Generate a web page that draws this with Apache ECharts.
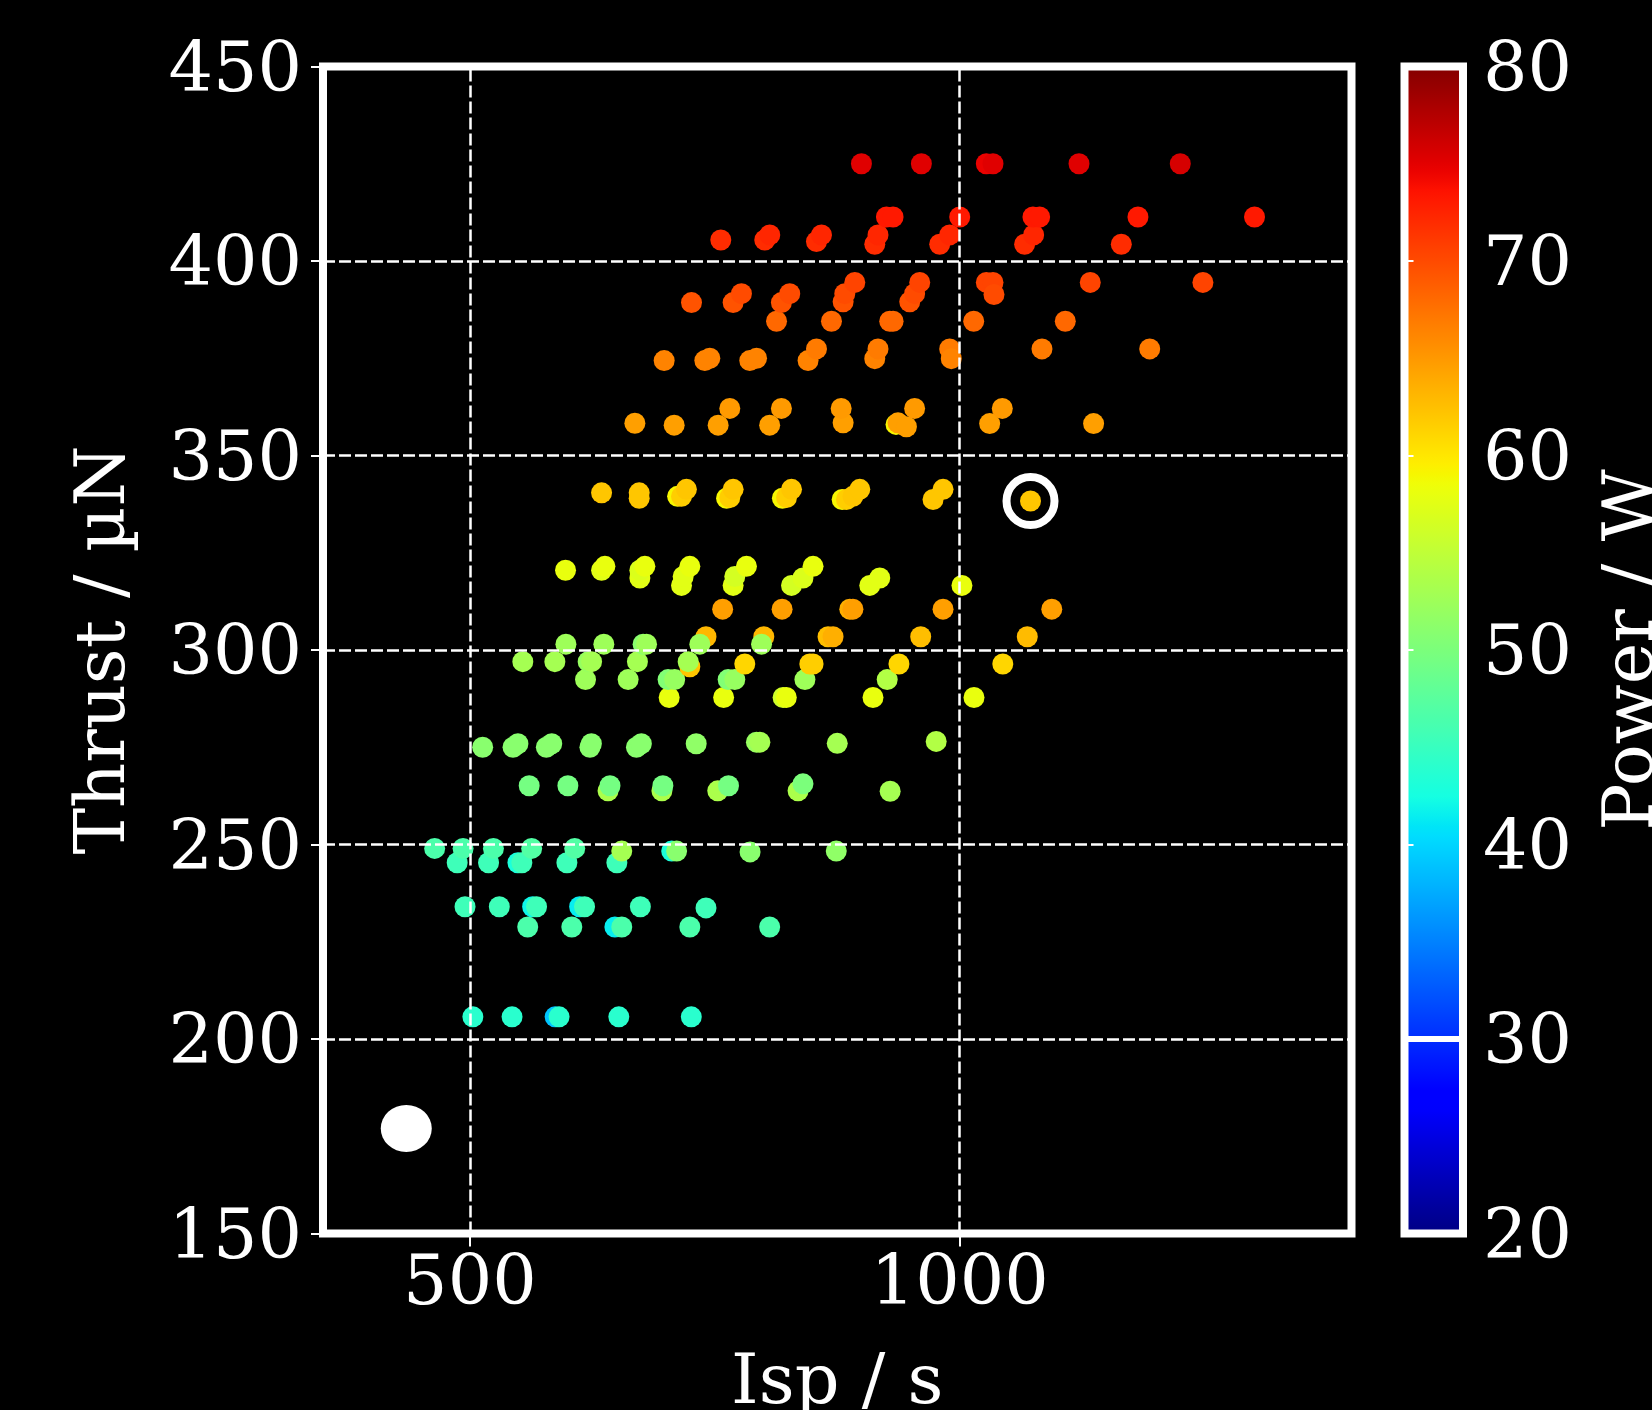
<!DOCTYPE html>
<html>
<head>
<meta charset="utf-8">
<script src="https://cdn.jsdelivr.net/npm/echarts@6.0.0/dist/echarts.min.js"></script>
<style>
html,body{margin:0;padding:0;background:#000;}
#chart{width:1652px;height:1410px;}
</style>
</head>
<body>
<div id="chart"></div>
<script>
// ---------- data ----------
const ispValues = [
  // ~206 uN
  587, 503, 543, 591, 652, 726,
  // ~229 uN
  648, 559, 604, 655, 724.5, 806,
  // ~234 uN
  564, 612, 495, 530, 568, 617, 674, 741,
  // ~245 uN
  549, 487, 519, 553, 599, 650,
  // ~249 uN
  706, 464, 493, 524, 563, 607, 655, 711, 786, 874,
  // ~264-265 uN
  641, 696, 753, 835, 929, 560.5, 600, 643, 697, 764, 840,
  // ~276 uN
  513, 544, 549, 578, 583.5, 622.5, 624, 670, 675, 731, 792.5, 796, 875, 976,
  // ~288 uN
  703.4, 759, 819.7, 823, 911.5, 1014.6,
  // ~292 uN
  618, 661.5, 702.3, 709, 763.6, 770.4, 842, 926,
  // ~296-297 uN
  724.5, 554, 586.7, 620.7, 624.2, 671, 722.8, 780.6, 847, 850.3, 938, 1044,
  // ~303 uN
  741, 800, 865.6, 870.7, 960.2, 1069,
  // ~301.5 uN
  598, 636.7, 676.8, 680.3, 734.7, 797.7,
  // ~310.5 uN
  758, 818.7, 887.8, 891, 983, 1094,
  // ~316.6 uN
  716, 768.7, 828.3, 908.2, 1002.3,
  // ~318.7 uN
  673.5, 717.7, 770.4, 840, 918.4,
  // ~321 uN
  597.6, 634.4, 637.8, 673.5, 678.6, 724.5, 782.3, 850.3,
  // ~340 uN
  712, 762, 819, 880, 634.4, 672.8, 672.8, 716, 721, 765.3, 768.7, 823.2, 828.3, 884.4, 891, 898, 972.8, 983, 1072.3,
  // ~358-362 uN
  935, 668.4, 708.5, 753.4, 806, 881, 937, 945.6, 1030.6, 1136.7, 765.3, 818, 879, 954, 1043.5,
  // ~374-377 uN
  698.3, 739.8, 744.9, 785.7, 792.6, 845.2, 853.8, 913.3, 916.6, 989.8, 991.4, 1084, 1194,
  // ~384.5 uN
  813, 869.1, 928.6, 932, 1014.3, 1107.8,
  // ~389-394 uN
  726.2, 768.7, 777.2, 818, 826.5, 881, 882.7, 892.9, 949, 954, 959.2, 1027.2, 1034, 1035, 1133.3, 1248.3,
  // ~404-407 uN
  756.1, 801, 806.1, 853.8, 858.9, 913.3, 916.6, 979.6, 989.8, 1066.3, 1075.5, 1165,
  // ~411 uN
  925.2, 932, 1000, 1074.8, 1081.6, 1182, 1301,
  // ~425 uN
  899.7, 960.9, 1027.2, 1034, 1121.8, 1225.2
];
const thrustValues = [
  205.7, 205.7, 205.7, 205.7, 205.7, 205.7,
  228.8, 228.8, 228.8, 228.8, 228.8, 228.8,
  234, 234, 234, 234, 234, 234, 234, 233.7,
  245.3, 245.3, 245.3, 245.3, 245.3, 245.3,
  248.3, 249, 249, 249, 249, 249, 248.3, 248.3, 248.1, 248.3,
  263.8, 263.8, 263.8, 263.8, 263.7, 265.1, 265.1, 265.1, 265.1, 265.1, 265.6,
  275, 275, 275.9, 275, 275.9, 275, 275.9, 275, 275.9, 275.9, 276.3, 276.3, 276, 276.5,
  287.8, 287.8, 287.8, 287.8, 287.8, 287.8,
  292.4, 292.4, 292.4, 292.4, 292.4, 292.4, 292.4, 292.4,
  295.7, 297, 297, 297, 297, 297, 297, 296.4, 296.4, 296.4, 296.4, 296.4,
  303.4, 303.4, 303.4, 303.4, 303.4, 303.4,
  301.5, 301.5, 301.5, 301.5, 301.5, 301.5,
  310.5, 310.5, 310.5, 310.5, 310.5, 310.5,
  316.6, 316.6, 316.6, 316.6, 316.6,
  318.5, 318.9, 318.9, 318.5, 318.5,
  320.5, 320.5, 321.5, 320.5, 321.5, 321.5, 321.5, 321.5,
  339.5, 339, 339, 338.7, 340.4, 339, 340.4, 339.5, 341.3, 339.2, 341.3, 339.2, 341.3, 338.7, 339.5, 341.3, 338.7, 341.3, 338.3,
  358, 358.3, 357.8, 357.8, 357.8, 358.4, 358.4, 357.4, 358.2, 358.2, 362.1, 362.1, 362.1, 362.1, 362.1,
  374.4, 374.4, 375, 374.4, 375, 374.4, 377.4, 374.9, 377.4, 377.4, 374.9, 377.4, 377.4,
  384.5, 384.5, 384.5, 384.5, 384.5, 384.5,
  389.3, 389.3, 391.6, 389.3, 391.6, 389.5, 391.6, 394.5, 389.5, 391.6, 394.5, 394.5, 394.5, 391.4, 394.5, 394.5,
  405.4, 405.4, 406.7, 405, 406.7, 404.3, 406.7, 404.3, 406.7, 404.3, 406.7, 404.3,
  411.3, 411.3, 411.3, 411.3, 411.3, 411.3, 411.3,
  425, 425, 425, 425, 425, 425
];
const powerValues = [
  39, 44, 44, 44, 44, 44,
  41.5, 46.5, 46.5, 46.5, 46.5, 46.5,
  42, 41.5, 45.5, 45.5, 45.5, 45.5, 45.5, 45.5,
  43, 45.5, 45.5, 45.5, 45.5, 45.5,
  43, 46.5, 46.5, 46.5, 47, 47, 53, 51, 51, 51.5,
  53.5, 53.5, 53.5, 53.5, 53, 49.5, 49.5, 49.5, 49.5, 49.5, 50,
  51, 51, 51, 51, 51, 51, 51, 51, 51, 51.5, 52, 53, 53, 54,
  58, 58, 56, 58, 58, 58,
  52.5, 52.5, 50.5, 52, 50.5, 52, 52.5, 54,
  62, 53, 53, 52, 53, 53, 53, 61, 61.5, 61.5, 61, 61,
  63, 63, 62.5, 63.5, 62.5, 62.7,
  52.5, 52.5, 51, 52.5, 52.5, 52.5,
  64.5, 64.5, 63.5, 64.5, 64.5, 64.5,
  57.5, 57.5, 56.5, 57.5, 58,
  57.5, 57.5, 56.5, 57, 57.5,
  58, 57.5, 58, 57, 58, 58, 58, 58,
  59, 59, 59, 59, 62, 62, 62, 61.5, 62, 61.5, 62, 61.5, 62, 61.5, 62, 62, 62, 62, 62,
  59, 64.5, 64.5, 64.5, 64.5, 64.5, 64.5, 64.5, 64.5, 64.5, 64.8, 64.8, 64.8, 64.8, 64.8,
  66.3, 66.3, 66.3, 66.3, 66.3, 66.3, 66.8, 66.3, 66.8, 66.8, 66.3, 66.8, 66.8,
  68, 68, 68, 68, 68, 68,
  69.3, 69.3, 69.8, 69.3, 69.8, 69.3, 69.8, 70.3, 69.3, 69.8, 70.3, 70.3, 70.3, 69.8, 70.3, 70.3,
  71.8, 71.8, 72.2, 71.8, 72.2, 71.8, 72.2, 71.8, 72.2, 71.8, 72.2, 71.8,
  73, 73, 73, 73, 73, 73, 73,
  75, 75, 74.5, 75, 75, 75.5
];
const referencePoint = [435, 177];      // large white dot
const highlightPoint = [1072.3, 338.3]; // ringed operating point
const xTickValues = [500, 1000];
const thrustRange = [150, 450];
const thrustStep = 50;
const ispRange = [350, 1400];
const powerRange = [20, 80];
const powerStep = 10;
const powerMarkValue = 30;

// ---------- jet colormap ----------
function jet(f) {
  const seg = (pts) => {
    for (let i = 0; i < pts.length - 1; i++) {
      const [x0, y0] = pts[i], [x1, y1] = pts[i + 1];
      if (f <= x1) return y0 + (y1 - y0) * (f - x0) / (x1 - x0);
    }
    return pts[pts.length - 1][1];
  };
  const r = seg([[0,0],[0.35,0],[0.66,1],[0.89,1],[1,0.5]]);
  const g = seg([[0,0],[0.125,0],[0.375,1],[0.64,1],[0.91,0],[1,0]]);
  const b = seg([[0,0.5],[0.11,1],[0.34,1],[0.65,0],[1,0]]);
  const c = v => Math.round(Math.max(0, Math.min(1, v)) * 255);
  return 'rgb(' + c(r) + ',' + c(g) + ',' + c(b) + ')';
}
const N = 120;
const jetColors = [];
const jetStops = [];
for (let i = 0; i <= N; i++) {
  const col = jet(i / N);
  jetColors.push(col);
  jetStops.push({ offset: i / N, color: col });
}

const points = ispValues.map((x, i) => [x, thrustValues[i], powerValues[i]]);

const FONT = 'DejaVu Serif';
const FS = 70;
const txt = { color: '#fff', fontFamily: FONT, fontSize: FS };
const plain = v => String(v);

const chart = echarts.init(document.getElementById('chart'), null, { renderer: 'canvas' });
chart.setOption({
  backgroundColor: '#000',
  animation: false,
  grid: [
    { left: 323, right: 300.5, top: 66.5, bottom: 176.5, show: true, outerBoundsMode: 'none', containLabel: false,
      borderColor: '#fff', borderWidth: 8, backgroundColor: 'rgba(0,0,0,0)' },
    { left: 1404.5, right: 189, top: 66.5, bottom: 176.5, show: true, outerBoundsMode: 'none', containLabel: false,
      borderColor: '#fff', borderWidth: 8,
      backgroundColor: { type: 'linear', x: 0, y: 1, x2: 0, y2: 0, colorStops: jetStops } }
  ],
  xAxis: [
    { type: 'value', gridIndex: 0, min: ispRange[0], max: ispRange[1],
      name: 'Isp / s', nameLocation: 'middle', nameGap: 116, nameTextStyle: txt,
      axisLine: { show: false },
      axisTick: { show: true, inside: false, length: 13, customValues: xTickValues,
        lineStyle: { color: '#fff', width: 2 } },
      axisLabel: Object.assign({ customValues: xTickValues, margin: 17, formatter: plain }, txt),
      splitLine: { show: false } },
    { type: 'value', gridIndex: 1, min: 0, max: 1, show: false }
  ],
  yAxis: [
    { type: 'value', gridIndex: 0, min: thrustRange[0], max: thrustRange[1], interval: thrustStep,
      name: 'Thrust / µN', nameLocation: 'middle', nameGap: 182, nameTextStyle: txt,
      z: 10,
      axisLine: { show: false },
      axisTick: { show: true, inside: false, length: 12, lineStyle: { color: '#fff', width: 2 } },
      axisLabel: Object.assign({ margin: 21, verticalAlign: 'top', lineHeight: 12, formatter: plain }, txt),
      splitLine: { show: true, lineStyle: { color: '#fff', width: 2.5, type: [12, 4] } } },
    { type: 'value', gridIndex: 1, min: powerRange[0], max: powerRange[1], interval: powerStep,
      position: 'right',
      name: 'Power / W', nameLocation: 'middle', nameGap: 136, nameTextStyle: txt,
      axisLine: { show: false },
      axisTick: { show: true, inside: false, length: 9, lineStyle: { color: '#fff', width: 2 } },
      axisLabel: Object.assign({ margin: 20, verticalAlign: 'top', lineHeight: 12, formatter: plain }, txt),
      splitLine: { show: false } }
  ],
  visualMap: {
    type: 'continuous', show: false, min: powerRange[0], max: powerRange[1],
    dimension: 2, seriesIndex: 0, inRange: { color: jetColors }
  },
  series: [
    { name: 'Operating points', type: 'scatter', xAxisIndex: 0, yAxisIndex: 0,
      data: points, symbol: 'circle', symbolSize: 21,
      itemStyle: { opacity: 1 }, emphasis: { disabled: true },
      markLine: { silent: true, symbol: 'none', animation: false,
        label: { show: false },
        lineStyle: { color: '#fff', width: 2.5, type: [12, 4], opacity: 1 },
        data: xTickValues.map(v => ({ xAxis: v })) } },
    { name: 'Reference', type: 'scatter', xAxisIndex: 0, yAxisIndex: 0,
      data: [referencePoint], symbol: 'circle', symbolSize: [51, 47],
      itemStyle: { color: '#fff', opacity: 1 }, emphasis: { disabled: true } },
    { name: 'Selected', type: 'scatter', xAxisIndex: 0, yAxisIndex: 0,
      data: [highlightPoint], symbol: 'circle', symbolSize: 48, z: 4,
      itemStyle: { color: 'rgba(0,0,0,0)', borderColor: '#fff', borderWidth: 8, opacity: 1 },
      emphasis: { disabled: true } },
    { name: 'Colorbar mark', type: 'line', xAxisIndex: 1, yAxisIndex: 1,
      data: [[0, powerMarkValue]], showSymbol: false, lineStyle: { opacity: 0 },
      markLine: { silent: true, symbol: 'none', animation: false,
        label: { show: false },
        lineStyle: { color: '#fff', width: 6, type: 'solid', opacity: 1 },
        data: [{ yAxis: powerMarkValue }] } }
  ]
});
</script>
</body>
</html>
